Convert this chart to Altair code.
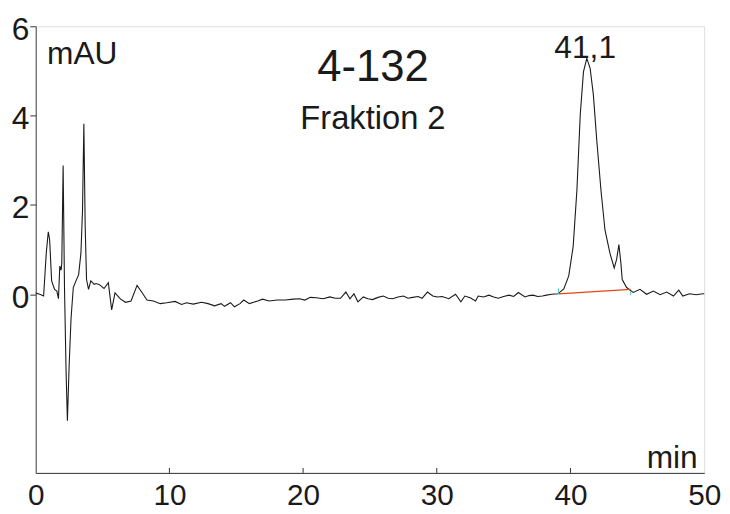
import altair as alt
import pandas as pd

# chromatogram trace (time in min, absorbance in mAU)
time_min = [
    0.0, 0.3, 0.59, 0.79, 0.94, 1.04, 1.19, 1.41, 1.58, 1.70, 1.80, 1.90, 1.95,
    2.05, 2.15, 2.27, 2.37, 2.50, 2.64, 2.81, 3.01, 3.21, 3.38, 3.50, 3.60,
    3.70, 3.80, 3.95, 4.12, 4.37, 4.50, 4.74, 5.11, 5.43, 5.68, 5.93, 6.35,
    6.72, 7.13, 7.58, 7.95, 8.32, 8.81, 9.31, 9.80, 10.42, 10.91, 11.28,
    11.78, 12.40, 12.89, 13.38, 13.87, 14.12, 14.57, 14.86, 15.28, 15.56,
    15.98, 16.60, 16.96, 17.46, 18.07, 18.69, 19.26, 19.75, 20.13, 20.54,
    20.99, 21.5, 22.0, 22.4, 22.8, 23.2, 23.5, 23.8, 24.1, 24.5, 24.85, 25.2,
    25.6, 26.0, 26.35, 26.7, 27.1, 27.5, 27.85, 28.2, 28.6, 28.9, 29.3, 29.7,
    30.05, 30.4, 30.9, 31.4, 31.8, 32.1, 32.5, 32.9, 33.1, 33.5, 33.9, 34.25,
    34.6, 35.0, 35.4, 35.75, 36.1, 36.6, 36.9, 37.2, 37.55, 37.9, 38.2, 38.6,
    39.06, 39.5, 39.87, 40.2, 40.48, 40.73, 40.97, 41.22, 41.47, 41.71, 41.97,
    42.28, 42.58, 42.95, 43.27, 43.45, 43.62, 43.77, 43.87, 44.2, 44.56, 44.7,
    45.2, 45.7, 46.2, 46.7, 47.2, 47.7, 48.1, 48.4, 48.9, 49.4, 49.9, 50.0,
]
absorbance = [
    0.03, 0.0, -0.04, 0.93, 1.40, 1.22, 0.30, 0.11, 0.07, -0.10, 0.63, 0.54, 0.70,
    2.88, 0.18, -1.73, -2.83, -1.59, -0.55, 0.15, 0.30, 0.44, 0.92, 1.88, 3.82,
    1.51, 0.33, 0.11, 0.30, 0.22, 0.24, 0.22, 0.13, 0.26, -0.35, 0.03, -0.11,
    -0.18, -0.15, 0.20, 0.04, -0.13, -0.15, -0.21, -0.19, -0.16, -0.23, -0.19,
    -0.22, -0.18, -0.21, -0.26, -0.21, -0.27, -0.19, -0.28, -0.21, -0.13,
    -0.21, -0.15, -0.11, -0.15, -0.13, -0.13, -0.11, -0.10, -0.13, -0.07,
    -0.08, -0.10, -0.06, -0.09, -0.09, 0.05, -0.10, 0.01, -0.17, -0.06, -0.10, -0.12,
    -0.07, -0.04, -0.09, -0.10, -0.06, -0.04, -0.09, -0.07, -0.05, -0.09, 0.05, -0.04,
    -0.06, -0.05, -0.10, 0.0, -0.17, -0.04, -0.08, -0.15, -0.04, -0.06, -0.02, -0.06,
    -0.09, -0.05, -0.02, -0.05, 0.04, -0.06, -0.03, -0.02, -0.05, -0.04, -0.02, 0.0,
    0.01, 0.12, 0.41, 1.07, 2.33, 4.02, 4.98, 5.28, 5.06, 4.47, 3.43,
    2.33, 1.44, 0.92, 0.59, 0.78, 1.11, 0.70, 0.33, 0.15, 0.07, 0.04,
    0.11, 0.0, 0.07, -0.01, 0.05, -0.04, 0.09, -0.04, 0.01, -0.01, 0.01, 0.01,
]

# integration baseline of the main peak
base_time = [39.1, 44.5]
base_value = [0.01, 0.11]
# integration start / end markers
marker_time = [39.1, 44.5]
marker_low = [0.0, -0.02]
marker_high = [0.13, 0.07]

# peak annotation
peak_time = [41.1]
peak_height = [5.28]
peak_label = ["41,1"]

x_ticks = [0, 10, 20, 30, 40, 50]
x_inner_ticks = [10, 20, 30, 40]
y_ticks = [0, 2, 4, 6]
y_domain = [-4, 6]

FONT = "Liberation Sans"
W, H = 675, 451
TICK_PX = 5

trace = pd.DataFrame({"t": time_min, "v": absorbance})
base = pd.DataFrame({"t": base_time, "v": base_value})
markers = pd.DataFrame({"t": marker_time, "lo": marker_low, "hi": marker_high})
peak = pd.DataFrame({"t": peak_time, "v": peak_height, "label": peak_label})
# inward x-axis tick marks (from the axis line up by TICK_PX pixels)
tick_len = (y_domain[1] - y_domain[0]) * TICK_PX / H
ticks_df = pd.DataFrame({
    "t": x_inner_ticks,
    "lo": [y_domain[0]] * len(x_inner_ticks),
    "hi": [y_domain[0] + tick_len] * len(x_inner_ticks),
})

xscale = alt.Scale(domain=[0, 50], nice=False, zero=False)
yscale = alt.Scale(domain=y_domain, nice=False, zero=False)

line = alt.Chart(trace).mark_line(color="#1a1a1a", strokeWidth=1.1).encode(
    x=alt.X("t:Q", scale=xscale, axis=alt.Axis(
        values=x_ticks, ticks=False, labelPadding=8, labelFontSize=30,
        labelFont=FONT, labelColor="#1a1a1a", labelFlush=False,
        labelOverlap=False, grid=False, domainColor="#333",
        title="min", titleFont=FONT, titleFontSize=32, titleFontWeight="normal",
        titleColor="#1a1a1a", titleX=668, titleY=-5, titleAlign="right",
        titleBaseline="alphabetic", titleAngle=0)),
    y=alt.Y("v:Q", scale=yscale, axis=alt.Axis(
        values=y_ticks, tickSize=6, tickColor="#333", labelPadding=1,
        labelFontSize=32, labelFont=FONT, labelColor="#1a1a1a", labelOffset=3,
        grid=False, domainColor="#444",
        title="mAU", titleFont=FONT, titleFontSize=32, titleFontWeight="normal",
        titleColor="#1a1a1a", titleAngle=0, titleX=11, titleY=38,
        titleAlign="left", titleBaseline="alphabetic")),
)

baseline_line = alt.Chart(base).mark_line(color="#e8431a", strokeWidth=1.2).encode(
    x=alt.X("t:Q", scale=xscale),
    y=alt.Y("v:Q", scale=yscale),
)

marker_rules = alt.Chart(markers).mark_rule(color="#4fc3d0", strokeWidth=1).encode(
    x=alt.X("t:Q", scale=xscale),
    y=alt.Y("lo:Q", scale=yscale),
    y2="hi:Q",
)

tick_rules = alt.Chart(ticks_df).mark_rule(color="#333", strokeWidth=1).encode(
    x=alt.X("t:Q", scale=xscale),
    y=alt.Y("lo:Q", scale=yscale),
    y2="hi:Q",
)

peak_text = alt.Chart(peak).mark_text(
    font=FONT, fontSize=32, color="#1a1a1a", align="center", baseline="alphabetic"
).encode(
    x=alt.X("t:Q", scale=xscale),
    y=alt.Y("v:Q", scale=yscale),
    text="label:N",
)

chart = alt.layer(line, baseline_line, marker_rules, tick_rules, peak_text).properties(
    width=W,
    height=H,
    autosize=alt.AutoSizeParams(type="none"),
    padding={"left": 28, "top": 16, "right": 18, "bottom": 35},
    title=alt.TitleParams(
        text="4-132", subtitle="Fraktion 2", anchor="middle", frame="group",
        font=FONT, fontSize=44, fontWeight="normal", color="#1a1a1a",
        subtitleFont=FONT, subtitleFontSize=33, subtitleColor="#1a1a1a",
        subtitlePadding=14, offset=-124, dx=3,
    ),
).configure_view(stroke="#333", strokeWidth=1).configure(background="white")

chart.save("out.html", embed_options={"renderer": "svg", "actions": False})
